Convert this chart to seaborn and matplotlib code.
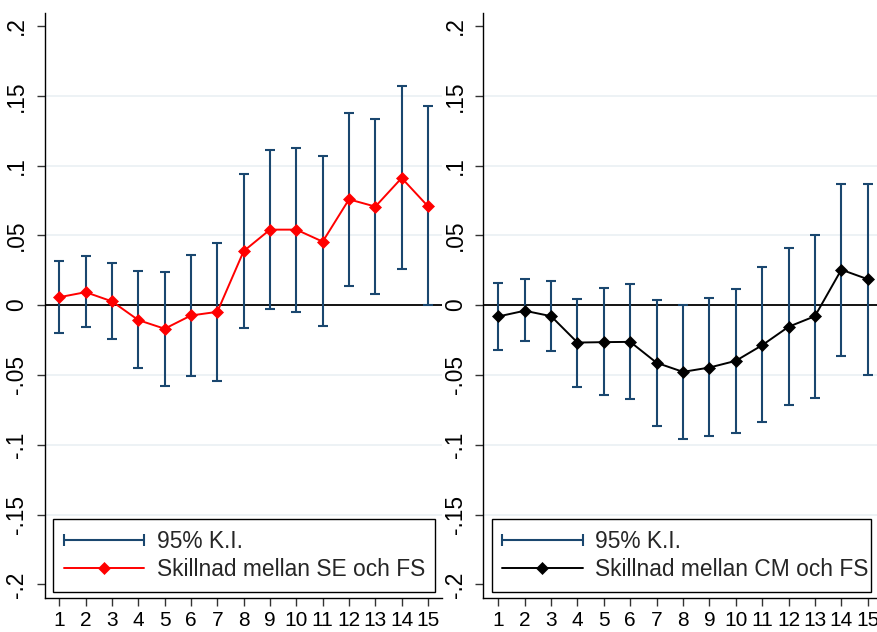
import numpy as np
import pandas as pd
import matplotlib
matplotlib.use('Agg')
import matplotlib.pyplot as plt
from matplotlib.lines import Line2D
from matplotlib.legend_handler import HandlerLine2D
import seaborn as sns

# ── data ──
periods = list(range(1, 16))

diff_se = [0.0057, 0.0093, 0.0027, -0.0107, -0.0169, -0.0074, -0.0048, 0.0387,
           0.0541, 0.0541, 0.0455, 0.0758, 0.0706, 0.0911, 0.0708]
ci_hi_se = [0.0316, 0.0349, 0.0301, 0.0242, 0.0240, 0.0359, 0.0445, 0.0942,
            0.1110, 0.1129, 0.1066, 0.1377, 0.1334, 0.1568, 0.1425]
ci_lo_se = [-0.0203, -0.0158, -0.0246, -0.0449, -0.0576, -0.0511, -0.0540, -0.0167,
            -0.0031, -0.0048, -0.0151, 0.0136, 0.0077, 0.0258, -0.0002]

diff_cm = [-0.0081, -0.0040, -0.0079, -0.0268, -0.0265, -0.0263, -0.0413, -0.0478,
           -0.0447, -0.0399, -0.0287, -0.0155, -0.0079, 0.0254, 0.0186]
ci_hi_cm = [0.0156, 0.0186, 0.0172, 0.0043, 0.0120, 0.0148, 0.0034, 0.0000,
            0.0048, 0.0117, 0.0273, 0.0409, 0.0500, 0.0868, 0.0868]
ci_lo_cm = [-0.0318, -0.0260, -0.0330, -0.0583, -0.0647, -0.0671, -0.0865, -0.0958,
            -0.0934, -0.0913, -0.0837, -0.0717, -0.0662, -0.0366, -0.0497]

y_ticks = [-0.2, -0.15, -0.1, -0.05, 0, 0.05, 0.1, 0.15, 0.2]
y_tick_labels = ['-.2', '-.15', '-.1', '-.05', '0', '.05', '.1', '.15', '.2']
ci_label = '95% K.I.'
label_se = 'Skillnad mellan SE och FS'
label_cm = 'Skillnad mellan CM och FS'

NAVY = '#1a476f'
GRID = '#e8eff3'

sns.set_theme(style='white')
plt.rcParams['font.family'] = ['Liberation Sans', 'DejaVu Sans']
FS = 16.4       # legend and y tick labels
FS_X = 15       # x tick labels (a bit narrower in the original)


def draw_panel(ax, diff, lo, hi, color, label, xlim):
    df = pd.DataFrame({'period': periods, 'diff': diff, 'lo': lo, 'hi': hi})

    # light grid lines (not at the extremes, zero gets its own line)
    for yv in y_ticks[1:-1]:
        if yv != 0:
            ax.axhline(yv, color=GRID, lw=1.1, zorder=0)
    ax.axhline(0, color='black', lw=1.3, zorder=1)

    # confidence intervals
    ax.errorbar(df['period'], (df['lo'] + df['hi']) / 2,
                yerr=(df['hi'] - df['lo']) / 2, fmt='none',
                ecolor=NAVY, elinewidth=1.5, capsize=3.8, capthick=1.5, zorder=2)

    # point estimates
    sns.lineplot(data=df, x='period', y='diff', ax=ax, color=color, lw=1.4,
                 marker='D', markersize=6.6, markeredgecolor=color,
                 markeredgewidth=0.5, zorder=3, legend=False)

    ax.set_xlim(*xlim)
    ax.set_ylim(-0.2098, 0.2093)
    ax.set_xticks(periods)
    ax.set_xticklabels([str(p) for p in periods], fontsize=FS_X)
    ax.set_yticks(y_ticks)
    ax.set_yticklabels(y_tick_labels, fontsize=FS, rotation=90, va='center')
    ax.set_xlabel('')
    ax.set_ylabel('')
    ax.tick_params(axis='both', which='major', length=6, width=1,
                   color='#333333', labelcolor='black', left=True, bottom=True)
    ax.tick_params(axis='y', pad=6)
    ax.tick_params(axis='x', pad=3.5)
    for side in ['top', 'right']:
        ax.spines[side].set_visible(False)
    for side in ['left', 'bottom']:
        ax.spines[side].set_color('black')
        ax.spines[side].set_linewidth(1.0)

    ci_handle = Line2D([], [], color=NAVY, lw=1.5, marker='|',
                       markersize=9, markeredgewidth=1.5)
    est_handle = Line2D([], [], color=color, lw=1.4, marker='D',
                        markersize=6.6, markeredgecolor=color, markeredgewidth=0.5)
    leg = ax.legend([ci_handle, est_handle], [ci_label, label],
                    handler_map={ci_handle: HandlerLine2D(numpoints=2, marker_pad=0)},
                    loc='lower left', bbox_to_anchor=(0.021, 0.0108, 0.962, 0.128),
                    mode='expand', fontsize=FS, handlelength=3.55, handletextpad=0.55,
                    labelspacing=0.25, borderpad=0.45, borderaxespad=0,
                    fancybox=False, framealpha=1, edgecolor='black', numpoints=1)
    leg.get_frame().set_linewidth(1.0)


fig = plt.figure(figsize=(8.78, 6.32), dpi=100)
ax1 = fig.add_axes([45 / 878, 34 / 632, 396.7 / 878, 585 / 632])
ax2 = fig.add_axes([483.3 / 878, 34 / 632, 394.7 / 878, 585 / 632])

draw_panel(ax1, diff_se, ci_lo_se, ci_hi_se, 'red', label_se, (0.456, 15.52))
draw_panel(ax2, diff_cm, ci_lo_cm, ci_hi_cm, 'black', label_cm, (0.431, 15.39))

fig.savefig('out.png', dpi=100)
